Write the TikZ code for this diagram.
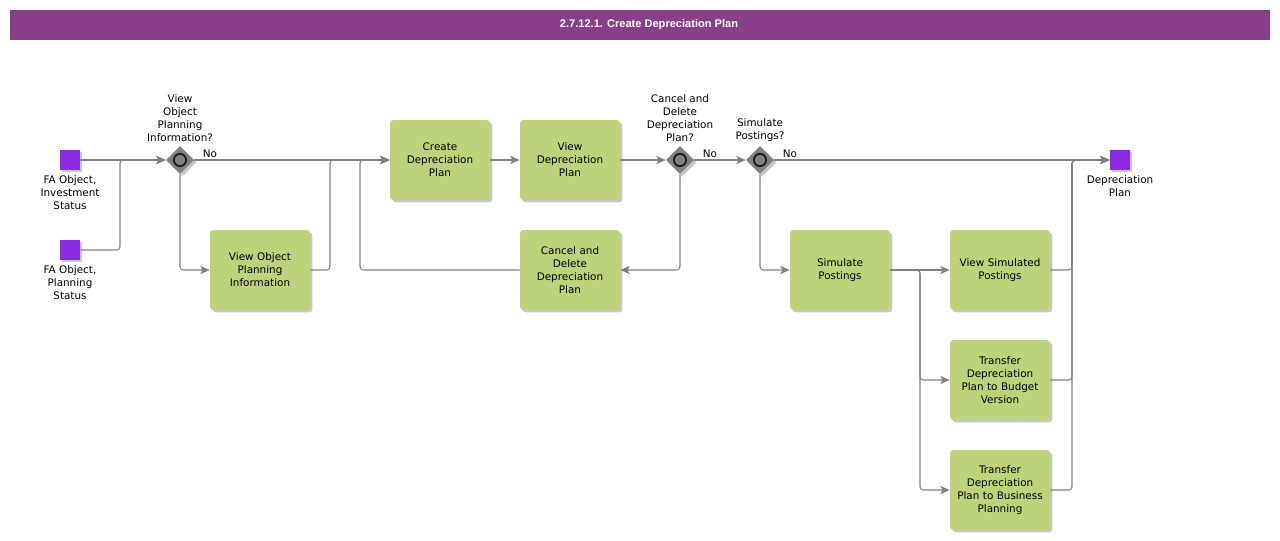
\documentclass[tikz,border=0pt]{standalone}
\usepackage{fontspec}
\setmainfont{DejaVu Sans}
\newfontfamily\titlefont{Liberation Sans}
\usepackage{tikz}
\usetikzlibrary{shapes.geometric, arrows.meta, positioning, calc, shadows}
\definecolor{procpurple}{RGB}{135, 63, 138}
\definecolor{taskgreen}{RGB}{189, 211, 123}
\definecolor{objviolet}{RGB}{138, 43, 226}
\definecolor{flowgray}{RGB}{128, 128, 128}
\newcommand{\bpmnfont}{\fontsize{7.8}{9.75}\selectfont}
\tikzset{
    softshadow/.style={drop shadow={shadow xshift=1.8pt, shadow yshift=-1.8pt, fill=black, opacity=0.22}},
    task/.style={rectangle, fill=taskgreen, rounded corners=2.5pt, minimum width=75pt, minimum height=60pt, text width=72pt, inner sep=1pt, align=center, font=\bpmnfont, softshadow},
    gateway/.style={diamond, fill=flowgray, minimum size=21pt, inner sep=0pt, softshadow},
    dataobj/.style={rectangle, fill=objviolet, minimum size=15pt, inner sep=0pt, softshadow},
    caption/.style={align=center, font=\bpmnfont, inner sep=1pt},
    flow/.style={draw, flowgray, line width=0.8pt, rounded corners=2.5pt, -{Stealth[length=7pt, width=6pt, inset=1.5pt]}},
    nolabel/.style={font=\bpmnfont, text=black, anchor=south west, inner sep=1pt, xshift=5pt, pos=0}
}

\begin{document}
\begin{tikzpicture}[x=0.75pt, y=-0.75pt]
    \useasboundingbox (0,0) rectangle (1280,540);

    % --- TITLE BAR ---
    \fill[procpurple] (10,10) rectangle (1270,40);
    \node[text=white, inner sep=0pt, font=\titlefont\bfseries\fontsize{8.3}{10}\selectfont] (title) at (649,25) {2.7.12.1. Create Depreciation Plan};

    % --- DATA OBJECTS ---
    \node[dataobj] (fainv) at (70,160) {};
    \node[caption, below=3pt of fainv] (fainv-lbl) {FA Object,\\Investment\\Status};
    \node[dataobj] (faplan) at (70,250) {};
    \node[caption, below=3pt of faplan] (faplan-lbl) {FA Object,\\Planning\\Status};
    \node[dataobj] (deprplan) at (1120,160) {};
    \node[caption, below=3pt of deprplan] (deprplan-lbl) {Depreciation\\Plan};

    % --- GATEWAYS ---
    \node[gateway] (gview) at (180,160) {};
    \node[caption, above=2pt of gview] (gview-q) {View\\Object\\Planning\\Information?};
    \node[gateway] (gcancel) at (680,160) {};
    \node[caption, above=2pt of gcancel] (gcancel-q) {Cancel and\\Delete\\Depreciation\\Plan?};
    \node[gateway] (gsim) at (760,160) {};
    \node[caption, above=2pt of gsim] (gsim-q) {Simulate\\Postings?};
    \foreach \g in {gview, gcancel, gsim}
        \draw[line width=1.3pt, black!90] (\g.center) circle (4.6pt);

    % --- TASKS ---
    \node[task] (viewobj) at (260,270) {View Object\\Planning\\Information};
    \node[task] (create) at (440,160) {Create\\Depreciation\\Plan};
    \node[task] (viewdp) at (570,160) {View\\Depreciation\\Plan};
    \node[task] (cancel) at (570,270) {Cancel and\\Delete\\Depreciation\\Plan};
    \node[task] (simpost) at (840,270) {Simulate\\Postings};
    \node[task] (viewsim) at (1000,270) {View Simulated\\Postings};
    \node[task] (budget) at (1000,380) {Transfer\\Depreciation\\Plan to Budget\\Version};
    \node[task] (business) at (1000,490) {Transfer\\Depreciation\\Plan to Business\\Planning};

    % bend points of the flows
    \coordinate (jin) at (120,160);
    \coordinate (jobj) at (330,160);
    \coordinate (jback) at (360,160);
    \coordinate (jbud) at (920,380);
    \coordinate (jbus) at (920,490);
    \coordinate (jout) at (1072,160);

    % --- FLOWS ---
    \draw[flow] (fainv) -- (gview);
    \draw[flow] (faplan) -| (jin) -- (gview);
    \draw[flow] (gview) -- node[nolabel] {No} (create);
    \draw[flow] (gview) |- (viewobj);
    \draw[flow] (viewobj) -| (jobj) -- (create);
    \draw[flow] (create) -- (viewdp);
    \draw[flow] (viewdp) -- (gcancel);
    \draw[flow] (gcancel) -- node[nolabel] {No} (gsim);
    \draw[flow] (gcancel) |- (cancel);
    \draw[flow] (cancel) -| (jback) -- (create);
    \draw[flow] (gsim) -- node[nolabel] {No} (deprplan);
    \draw[flow] (gsim) |- (simpost);
    \draw[flow] (simpost) -- (viewsim);
    \draw[flow] (simpost) -| (jbud) -- (budget);
    \draw[flow] (simpost) -| (jbus) -- (business);
    \foreach \t in {viewsim, budget, business}
        \draw[flow] (\t) -| (jout) -- (deprplan);

\end{tikzpicture}
\end{document}
